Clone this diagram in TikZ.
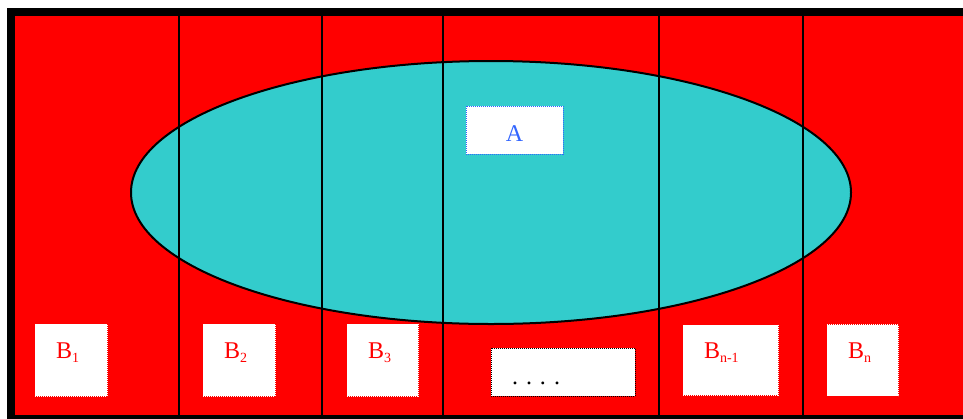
\documentclass[tikz,border=0pt]{standalone}
\usepackage{fontspec}
\setmainfont{Liberation Serif}
\usetikzlibrary{shapes.geometric}
\definecolor{space}{HTML}{FF0000}
\definecolor{lagoon}{HTML}{33CCCC}
\definecolor{ink}{HTML}{3366FF}
\newcommand{\lowidx}[1]{\raisebox{-4pt}{\fontsize{14}{14}\selectfont #1}}
\tikzset{
  base/.style={font=\fontsize{24}{28}\selectfont,fill=white,line width=1pt,dash pattern=on 1pt off 1pt,inner ysep=0pt,align=left},
  part/.style={base,draw=white,text=space,inner xsep=21pt,minimum height=72pt,text height=14pt,text depth=18pt},
  gap/.style={base,draw=black,inner xsep=21pt,minimum height=48pt,text height=26pt,text depth=2pt},
  tag/.style={base,draw=ink,text=ink,align=center,minimum width=97pt,minimum height=48pt,text height=24pt,text depth=2pt},
  setA/.style={ellipse,draw=black,line width=2pt,fill=lagoon,minimum width=720pt,minimum height=263pt,inner sep=0pt},
  divider/.style={draw=black,line width=2pt},
  frame/.style={draw=black,line width=8pt}
}

\begin{document}
\begin{tikzpicture}[x=1pt,y=-1pt]
\useasboundingbox (0,0) rectangle (963,418);
\clip (0,0) rectangle (963,418);
\fill[space] (11,12) rectangle (968,419);

% the event A
\node[setA] (eventA) at (491,192.5) {};

% the partition B_1 ... B_n
\draw[divider] (179,16) -- (179,415);
\draw[divider] (322,16) -- (322,415);
\draw[divider] (443,16) -- (443,415);
\draw[divider] (659,16) -- (659,415);
\draw[divider] (803,16) -- (803,415);

\node[tag] (nameA) at (514.5,130) {A};
\node[part,text width=30pt] (b1) at (71,360) {B\lowidx{1}};
\node[part,text width=30pt] (b2) at (239,360) {B\lowidx{2}};
\node[part,text width=29pt] (b3) at (382.5,360) {B\lowidx{3}};
\node[gap,text width=102pt] (dots) at (563,372) {.\hspace{8pt}.\hspace{8pt}.\hspace{8pt}.};
\node[part,text width=53pt,minimum height=70pt] (bnm) at (730.5,360) {B\lowidx{n-1}};
\node[part,text width=29pt,minimum height=71pt] (bn) at (862.5,360) {B\lowidx{n}};

\draw[frame] (11,12) rectangle (968,419);
\end{tikzpicture}
\end{document}
